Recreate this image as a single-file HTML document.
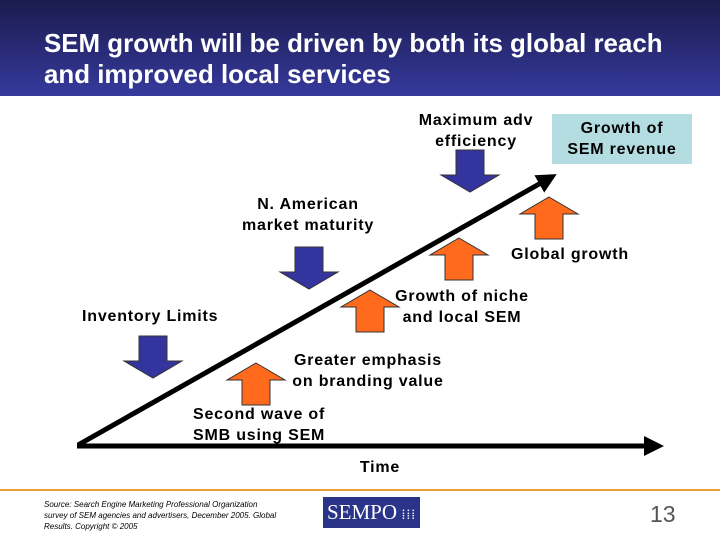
<!DOCTYPE html>
<html><head><meta charset="utf-8"><style>
body{margin:0;width:720px;height:540px;overflow:hidden;background:#fff;font-family:"Liberation Sans",Arial,sans-serif;position:relative}
.t{position:absolute;font-size:16px;font-weight:bold;letter-spacing:0.8px;color:#000;line-height:21px;white-space:nowrap}
.c{text-align:center}
</style></head><body>
<div style="position:absolute;left:0;top:0;width:720px;height:96px;background:linear-gradient(#1b1b4e,#363a9c)"></div>
<div style="position:absolute;left:44px;top:29px;color:#fff;font-weight:bold;font-size:25.9px;line-height:31px;white-space:nowrap">SEM growth will be driven by both its global reach<br>and improved local services</div>

<svg width="720" height="540" style="position:absolute;left:0;top:0">
<defs><marker id="ah" markerWidth="4" markerHeight="4" refX="2" refY="2" orient="auto"><path d="M0,0 L4,2 L0,4 z" fill="#000"/></marker></defs>
<line x1="78" y1="445" x2="548" y2="179" stroke="#000" stroke-width="5" marker-end="url(#ah)"/>
<line x1="77" y1="446" x2="654" y2="446" stroke="#000" stroke-width="5" marker-end="url(#ah)"/>
<g id="arrows"></g>
<line x1="0" y1="490" x2="720" y2="490" stroke="#e8a030" stroke-width="2"/>
</svg>
<script>
const downArrows=[[470,150,'max-adv-arrow'],[309,247,'na-market-arrow'],[153,336,'inventory-arrow']];
const upArrows=[[549,197,'global-arrow-1'],[459,238,'global-arrow-2'],[370,290,'niche-arrow'],[256,363,'branding-arrow']];
const g=document.getElementById('arrows');
function arrow(cx,top,down,name){
  const h=42,hw=29,sw=14,hh=17;
  let pts;
  if(down){pts=[[cx-sw,top],[cx+sw,top],[cx+sw,top+h-hh],[cx+hw,top+h-hh],[cx,top+h],[cx-hw,top+h-hh],[cx-sw,top+h-hh]];}
  else{pts=[[cx,top],[cx+hw,top+hh],[cx+sw,top+hh],[cx+sw,top+h],[cx-sw,top+h],[cx-sw,top+hh],[cx-hw,top+hh]];}
  const p=document.createElementNS('http://www.w3.org/2000/svg','polygon');
  p.setAttribute('points',pts.map(a=>a.join(',')).join(' '));
  p.setAttribute('fill',down?'#34349e':'#ff6a1c');
  p.setAttribute('stroke','#333');
  
  
  g.appendChild(p);
}
downArrows.forEach(a=>arrow(a[0],a[1],true,a[2]));
upArrows.forEach(a=>arrow(a[0],a[1],false,a[2]));
</script>

<div style="position:absolute;left:552px;top:114px;width:140px;height:50px;background:#b3dde1"></div>
<div class="t c" style="left:542px;top:118px;width:160px">Growth of<br>SEM revenue</div>
<div class="t c" style="left:386px;top:110px;width:180px">Maximum adv<br>efficiency</div>
<div class="t c" style="left:208px;top:194px;width:200px">N. American<br>market maturity</div>
<div class="t" style="left:511px;top:244px">Global growth</div>
<div class="t c" style="left:362px;top:286px;width:200px">Growth of niche<br>and local SEM</div>
<div class="t" style="left:82px;top:306px">Inventory Limits</div>
<div class="t c" style="left:258px;top:350px;width:220px">Greater emphasis<br>on branding value</div>
<div class="t" style="left:193px;top:404px">Second wave of<br>SMB using SEM</div>
<div class="t c" style="left:330px;top:457px;width:100px">Time</div>

<div style="position:absolute;left:44px;top:499px;font-size:8px;line-height:11px;font-style:italic;color:#000;white-space:nowrap">Source: Search Engine Marketing Professional Organization<br>survey of SEM agencies and advertisers, December 2005. Global<br>Results. Copyright © 2005</div>
<div style="position:absolute;left:323px;top:497px;width:97px;height:31px;background:#2a3488;color:#fff;font-family:'Liberation Serif',serif;font-size:21px;line-height:31px;padding-left:4px;box-sizing:border-box">SEMPO<span style="font-size:14px;letter-spacing:1px"> ⁞⁞⁞</span></div>
<div style="position:absolute;left:650px;top:501px;font-size:23px;color:#555">13</div>
</body></html>
